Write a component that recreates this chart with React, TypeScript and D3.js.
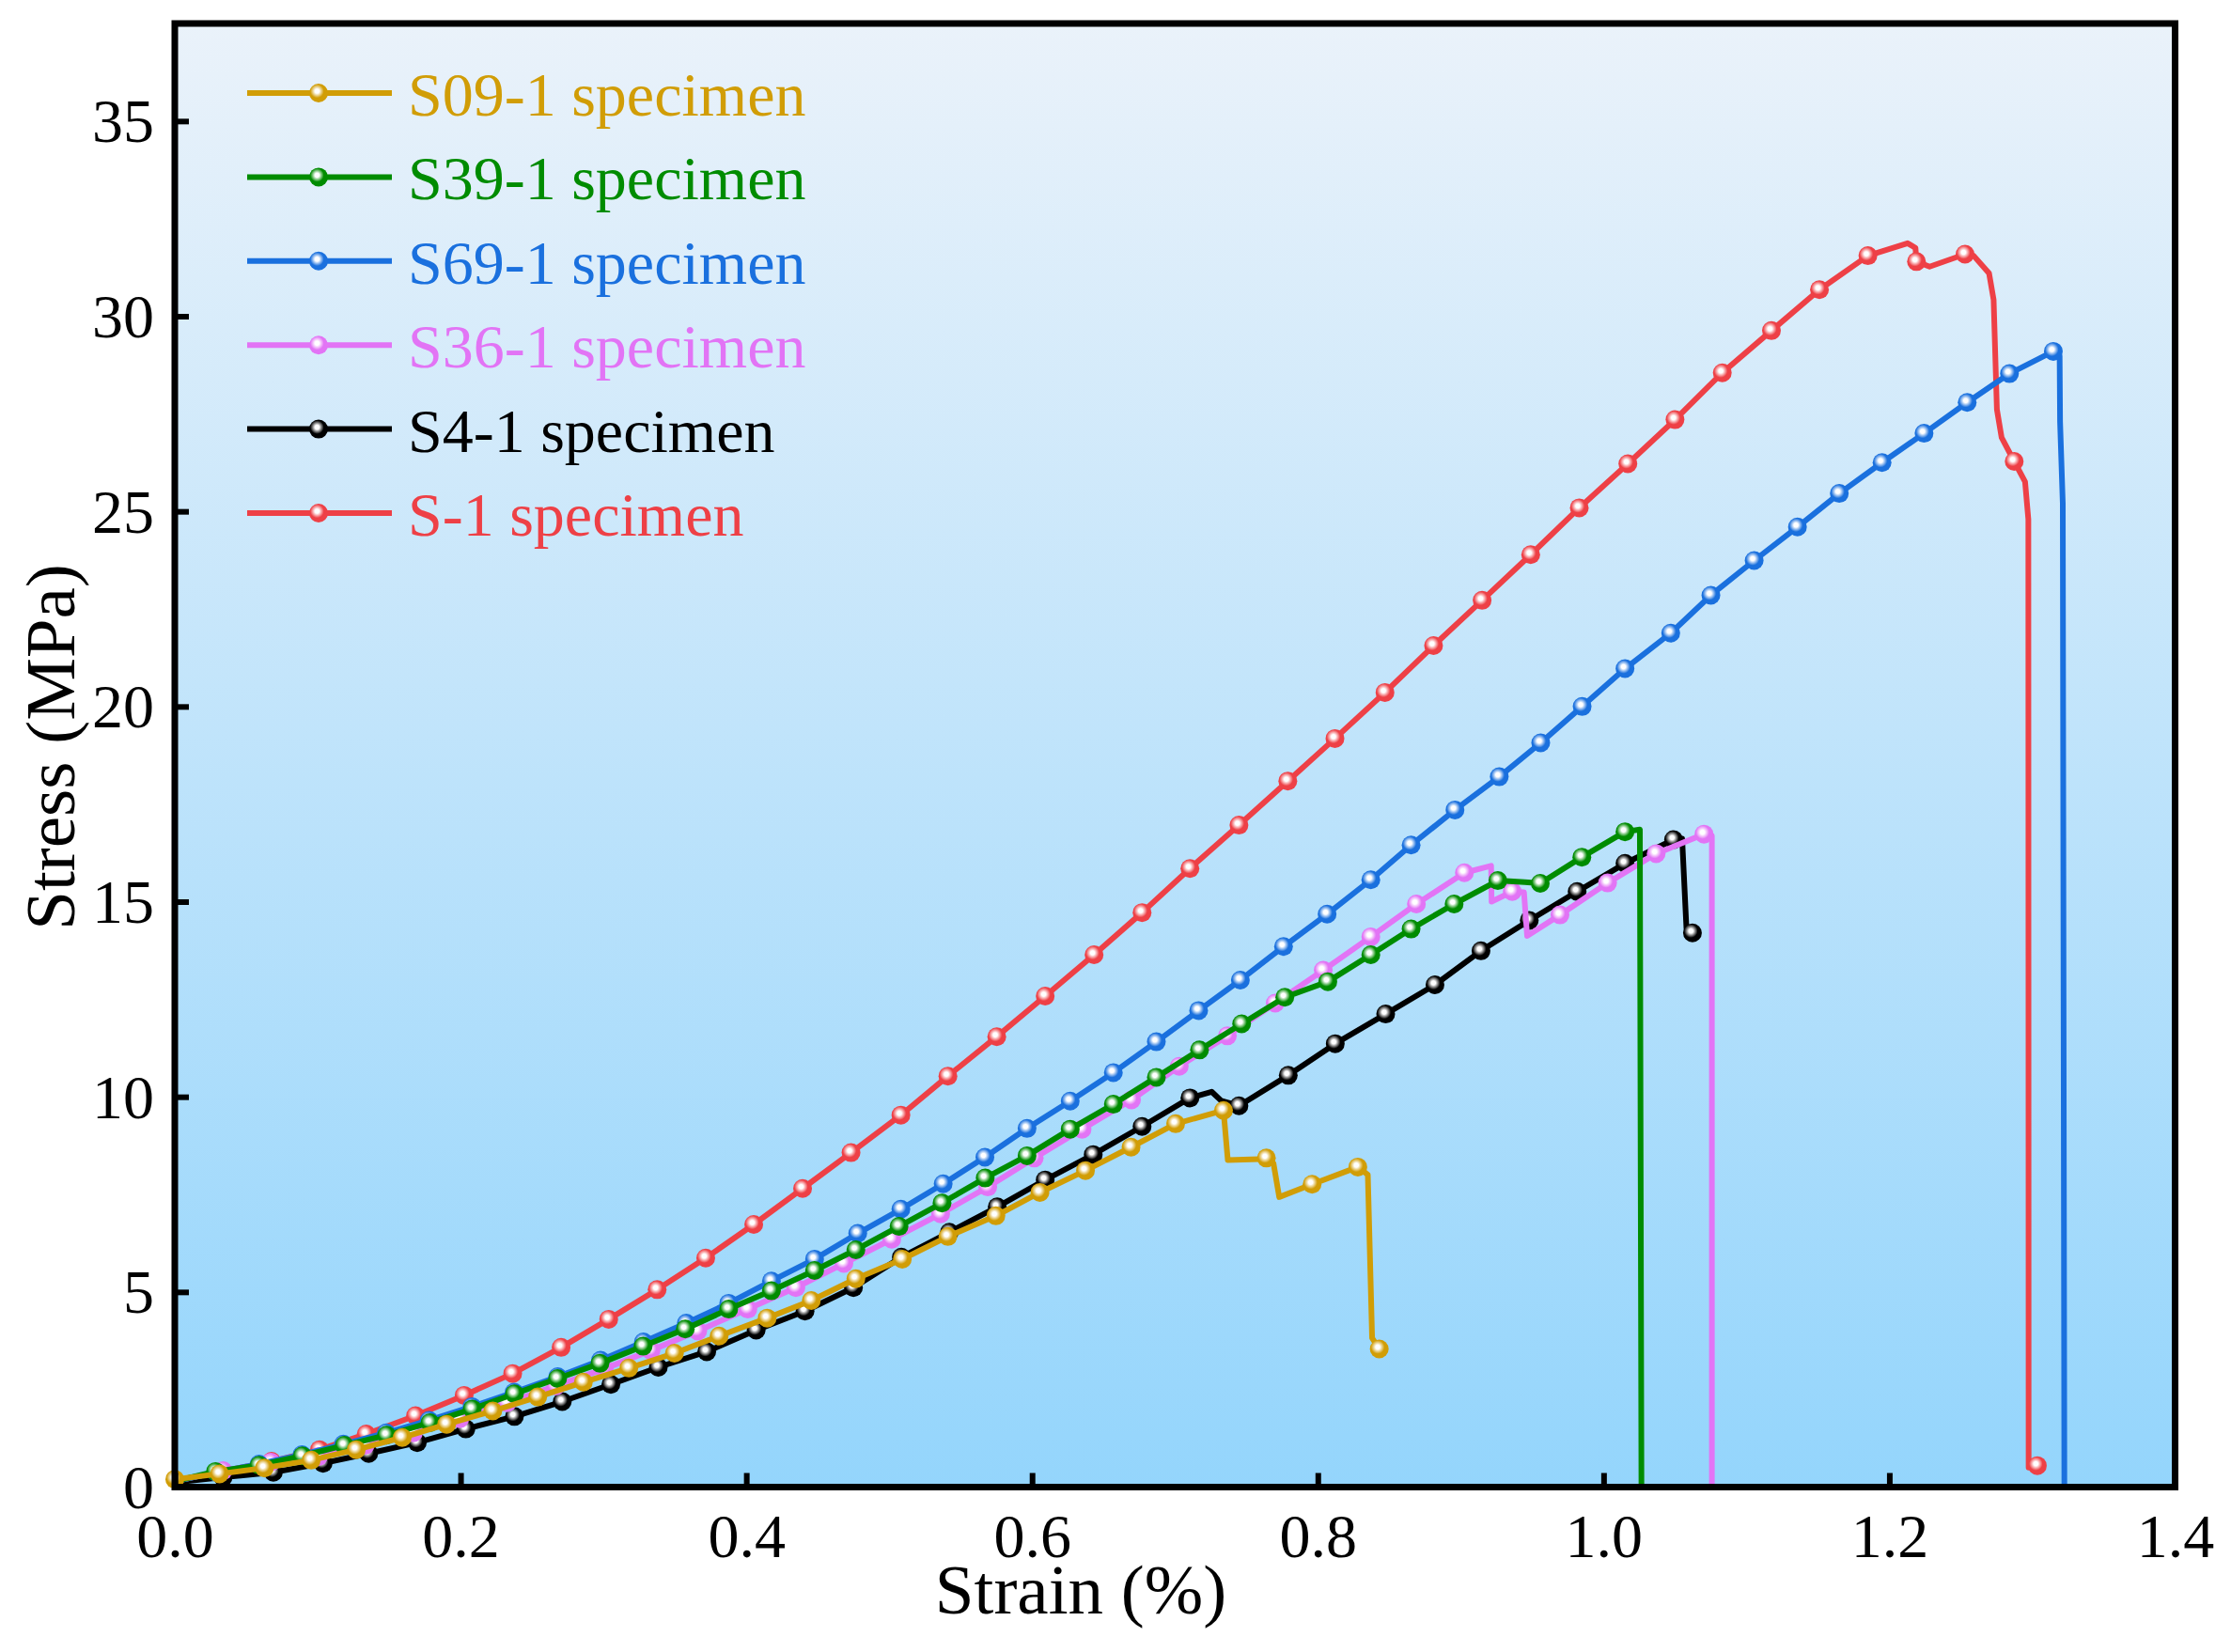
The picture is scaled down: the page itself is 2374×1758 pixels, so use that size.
import React, { useEffect, useRef } from 'react';
import * as d3 from 'd3';

type Pt = [number, number, number]; // strain, stress, 1 = sampled marker

// tick values
const xTicks = [0, 0.2, 0.4, 0.6, 0.8, 1.0, 1.2, 1.4];
const yTicks = [0, 5, 10, 15, 20, 25, 30, 35];

const seriesNames = ['S09-1 specimen', 'S39-1 specimen', 'S69-1 specimen', 'S36-1 specimen', 'S4-1 specimen', 'S-1 specimen'];
const seriesColors = ['#D19D06', '#008C00', '#1A70DE', '#E274F5', '#000000', '#EE4046'];

const s09: Pt[] = [
  [0, 0.2, 1], [0.0313, 0.34, 1], [0.0627, 0.49, 1], [0.0955, 0.69, 1], [0.127, 0.96, 1],
  [0.1592, 1.27, 1], [0.1903, 1.61, 1], [0.2226, 1.95, 1], [0.254, 2.31, 1], [0.286, 2.69, 1],
  [0.3178, 3.05, 1], [0.3497, 3.43, 1], [0.381, 3.87, 1], [0.4146, 4.33, 1], [0.4455, 4.78, 1],
  [0.4767, 5.34, 1], [0.5092, 5.84, 1], [0.5411, 6.42, 1], [0.5747, 6.95, 1], [0.6055, 7.55, 1],
  [0.6374, 8.11, 1], [0.6693, 8.71, 1], [0.7005, 9.31, 1], [0.734, 9.65, 1], [0.737, 8.38, 0],
  [0.759, 8.4, 0], [0.764, 8.43, 1], [0.769, 8.29, 0], [0.773, 7.43, 0], [0.796, 7.76, 1],
  [0.828, 8.2, 1], [0.835, 8.0, 0], [0.838, 3.82, 0], [0.843, 3.54, 1],
];

const s39: Pt[] = [
  [0, 0.15, 0], [0.0285, 0.4, 1], [0.059, 0.56, 1], [0.0893, 0.8, 1], [0.1187, 1.07, 1],
  [0.1483, 1.33, 1], [0.1786, 1.65, 1], [0.2082, 2.0, 1], [0.2377, 2.39, 1], [0.2679, 2.78, 1],
  [0.2976, 3.17, 1], [0.3278, 3.61, 1], [0.3573, 4.05, 1], [0.3877, 4.56, 1], [0.4176, 5.03, 1],
  [0.4478, 5.55, 1], [0.4767, 6.08, 1], [0.5069, 6.68, 1], [0.537, 7.28, 1], [0.5672, 7.92, 1],
  [0.5965, 8.49, 1], [0.6267, 9.17, 1], [0.6569, 9.81, 1], [0.687, 10.5, 1], [0.7172, 11.2, 1],
  [0.7467, 11.87, 1], [0.7769, 12.55, 1], [0.807, 12.95, 1], [0.8371, 13.64, 1], [0.8653, 14.3, 1],
  [0.8954, 14.94, 1], [0.926, 15.54, 1], [0.945, 15.5, 0], [0.9557, 15.47, 1], [0.9848, 16.14, 1],
  [1.015, 16.79, 1], [1.0254, 16.85, 0], [1.0265, 0, 0],
];

const s69: Pt[] = [
  [0, 0.15, 0], [0.029, 0.38, 1], [0.059, 0.59, 1], [0.089, 0.83, 1], [0.118, 1.1, 1],
  [0.148, 1.39, 1], [0.178, 1.71, 1], [0.208, 2.06, 1], [0.2375, 2.43, 1], [0.268, 2.83, 1],
  [0.298, 3.25, 1], [0.328, 3.72, 1], [0.358, 4.2, 1], [0.3877, 4.71, 1], [0.4176, 5.28, 1],
  [0.4478, 5.84, 1], [0.478, 6.5, 1], [0.5082, 7.12, 1], [0.5378, 7.77, 1], [0.567, 8.45, 1],
  [0.5965, 9.19, 1], [0.6267, 9.89, 1], [0.6569, 10.62, 1], [0.687, 11.41, 1], [0.7166, 12.21, 1],
  [0.7458, 12.99, 1], [0.776, 13.85, 1], [0.8065, 14.68, 1], [0.8371, 15.56, 1], [0.8653, 16.45, 1],
  [0.896, 17.35, 1], [0.927, 18.2, 1], [0.956, 19.07, 1], [0.985, 20.0, 1], [1.015, 20.97, 1],
  [1.047, 21.88, 1], [1.0751, 22.85, 1], [1.1054, 23.74, 1], [1.1357, 24.6, 1], [1.165, 25.46, 1],
  [1.1949, 26.25, 1], [1.2243, 27.0, 1], [1.2545, 27.79, 1], [1.2841, 28.53, 1], [1.3148, 29.1, 1],
  [1.3192, 28.98, 0], [1.3195, 27.3, 0], [1.3214, 25.2, 0], [1.3225, 0, 0],
];

const s36: Pt[] = [
  [0, 0.15, 0], [0.0338, 0.42, 1], [0.0673, 0.64, 1], [0.1005, 0.78, 1], [0.1332, 1.07, 1],
  [0.167, 1.39, 1], [0.1994, 1.75, 1], [0.2326, 2.16, 1], [0.2667, 2.59, 1], [0.3006, 3.03, 1],
  [0.3333, 3.5, 1], [0.366, 4.0, 1], [0.4011, 4.56, 1], [0.4347, 5.11, 1], [0.4683, 5.73, 1],
  [0.5018, 6.35, 1], [0.536, 7.0, 1], [0.569, 7.69, 1], [0.6015, 8.43, 1], [0.635, 9.17, 1],
  [0.6696, 9.92, 1], [0.703, 10.78, 1], [0.7367, 11.56, 1], [0.7702, 12.4, 1], [0.8038, 13.24, 1],
  [0.8371, 14.1, 1], [0.869, 14.94, 1], [0.9026, 15.74, 1], [0.9213, 15.92, 0], [0.9216, 15.0, 0],
  [0.9361, 15.26, 1], [0.9443, 15.24, 0], [0.9465, 14.12, 0], [0.9695, 14.66, 1], [1.0028, 15.48, 1],
  [1.0368, 16.23, 1], [1.0703, 16.73, 1], [1.0758, 16.69, 0], [1.0758, 0, 0],
];

const s4: Pt[] = [
  [0, 0.12, 0], [0.0338, 0.25, 1], [0.069, 0.38, 1], [0.1038, 0.61, 1], [0.1357, 0.86, 1],
  [0.1697, 1.14, 1], [0.2037, 1.49, 1], [0.2377, 1.81, 1], [0.2712, 2.19, 1], [0.3052, 2.63, 1],
  [0.3384, 3.07, 1], [0.3723, 3.47, 1], [0.4069, 4.02, 1], [0.4411, 4.51, 1], [0.475, 5.11, 1],
  [0.5085, 5.89, 1], [0.5421, 6.53, 1], [0.5756, 7.18, 1], [0.6092, 7.87, 1], [0.6428, 8.52, 1],
  [0.677, 9.24, 1], [0.7105, 9.97, 1], [0.7257, 10.13, 0], [0.7324, 9.9, 0], [0.7448, 9.77, 1],
  [0.7793, 10.55, 1], [0.8122, 11.36, 1], [0.8475, 12.12, 1], [0.882, 12.87, 1], [0.9142, 13.74, 1],
  [0.948, 14.52, 1], [0.9815, 15.26, 1], [1.015, 15.98, 1], [1.049, 16.59, 1], [1.055, 16.61, 0],
  [1.058, 14.32, 0], [1.0622, 14.2, 1],
];

const s1: Pt[] = [
  [0, 0.15, 0], [0.0337, 0.4, 1], [0.0677, 0.66, 1], [0.1013, 0.96, 1], [0.134, 1.36, 1],
  [0.1685, 1.83, 1], [0.2025, 2.35, 1], [0.2365, 2.91, 1], [0.2704, 3.58, 1], [0.3037, 4.3, 1],
  [0.3376, 5.06, 1], [0.3716, 5.87, 1], [0.4052, 6.73, 1], [0.4394, 7.65, 1], [0.4733, 8.57, 1],
  [0.5082, 9.53, 1], [0.5411, 10.53, 1], [0.5753, 11.54, 1], [0.6092, 12.58, 1], [0.6434, 13.64, 1],
  [0.677, 14.72, 1], [0.7105, 15.85, 1], [0.7448, 16.96, 1], [0.779, 18.09, 1], [0.812, 19.18, 1],
  [0.847, 20.36, 1], [0.881, 21.56, 1], [0.915, 22.72, 1], [0.949, 23.89, 1], [0.983, 25.09, 1],
  [1.017, 26.22, 1], [1.05, 27.35, 1], [1.0831, 28.55, 1], [1.1175, 29.63, 1], [1.1511, 30.68, 1],
  [1.185, 31.55, 1], [1.2128, 31.87, 0], [1.2183, 31.75, 0], [1.219, 31.4, 1], [1.2282, 31.27, 0],
  [1.253, 31.59, 1], [1.259, 31.55, 0], [1.2698, 31.1, 0], [1.273, 30.42, 0], [1.2753, 27.61, 0],
  [1.2786, 26.89, 0], [1.2874, 26.28, 1], [1.295, 25.76, 0], [1.2973, 24.8, 0], [1.2975, 0.5, 0],
  [1.3036, 0.55, 1],
];

const seriesData = [s09, s39, s69, s36, s4, s1];

const App: React.FC = () => {
  const svgRef = useRef<SVGSVGElement | null>(null);

  useEffect(() => {
    if (!svgRef.current) return;
    const W = 2374;
    const H = 1758;
    const margin = { left: 186, right: W - 2314.5, top: 25, bottom: H - 1582.5 };
    const font = '"Liberation Serif", "Times New Roman", serif';
    const markR = 10;
    const lineW = 6;

    const svg = d3.select(svgRef.current);
    svg.selectAll('*').remove();

    const x = d3.scaleLinear().domain([0, 1.4]).range([margin.left, W - margin.right]);
    const y = d3.scaleLinear().domain([0, 37.5]).range([H - margin.bottom, margin.top]);

    const defs = svg.append('defs');
    const bg = defs.append('linearGradient')
      .attr('id', 'bg').attr('x1', 0).attr('y1', 0).attr('x2', 0).attr('y2', 1);
    bg.append('stop').attr('offset', '0%').attr('stop-color', '#EAF2FA');
    bg.append('stop').attr('offset', '100%').attr('stop-color', '#94D5FC');

    // shiny ball markers
    seriesColors.forEach((c, i) => {
      const g = defs.append('radialGradient')
        .attr('id', `mk${i}`).attr('cx', '0.42').attr('cy', '0.4').attr('r', '0.62');
      g.append('stop').attr('offset', '0').attr('stop-color', '#ffffff');
      g.append('stop').attr('offset', '0.18').attr('stop-color', '#ffffff');
      g.append('stop').attr('offset', '0.38').attr('stop-color', d3.interpolateRgb(c, '#ffffff')(0.5));
      g.append('stop').attr('offset', '0.58').attr('stop-color', c);
      g.append('stop').attr('offset', '1').attr('stop-color', c);
    });

    // plot background
    svg.append('rect')
      .attr('x', margin.left).attr('y', margin.top)
      .attr('width', x(1.4) - x(0)).attr('height', y(0) - y(37.5))
      .attr('fill', 'url(#bg)');

    // series: draw S-1 first so S09-1 ends up on top
    const line = d3.line<Pt>().x(d => x(d[0])).y(d => y(d[1]));
    for (let i = seriesData.length - 1; i >= 0; i--) {
      const pts = seriesData[i];
      const c = seriesColors[i];
      const g = svg.append('g');
      g.append('path')
        .attr('d', line(pts)!)
        .attr('fill', 'none')
        .attr('stroke', c)
        .attr('stroke-width', lineW)
        .attr('stroke-linejoin', 'round');
      g.selectAll('circle')
        .data(pts.filter(p => p[2] === 1))
        .join('circle')
        .attr('cx', d => x(d[0]))
        .attr('cy', d => y(d[1]))
        .attr('r', markR)
        .attr('fill', `url(#mk${i})`);
    }

    // axes, ticks pointing inward
    const xAxis = svg.append('g')
      .attr('transform', `translate(0,${y(0)})`)
      .call(d3.axisBottom(x).tickValues(xTicks).tickSize(-15).tickFormat(d3.format('.1f')));
    const yAxis = svg.append('g')
      .attr('transform', `translate(${x(0)},0)`)
      .call(d3.axisLeft(y).tickValues(yTicks).tickSize(-15).tickFormat(d3.format('d')));
    [xAxis, yAxis].forEach(a => {
      a.select('.domain').remove();
      a.selectAll('line').attr('stroke', '#000').attr('stroke-width', 6);
      a.selectAll('text').attr('fill', '#000').attr('font-family', font).attr('font-size', 66);
    });
    xAxis.selectAll('text').attr('y', 74.5).attr('dy', null);
    yAxis.selectAll('text').attr('x', -22).attr('dy', 22);

    // frame
    svg.append('rect')
      .attr('x', x(0)).attr('y', y(37.5))
      .attr('width', x(1.4) - x(0)).attr('height', y(0) - y(37.5))
      .attr('fill', 'none').attr('stroke', '#000').attr('stroke-width', 7);

    // axis titles
    svg.append('text')
      .attr('x', 1150).attr('y', 1717)
      .attr('text-anchor', 'middle')
      .attr('font-family', font).attr('font-size', 75)
      .text('Strain (%)');
    svg.append('text')
      .attr('transform', `translate(79,795) rotate(-90)`)
      .attr('text-anchor', 'middle')
      .attr('font-family', font).attr('font-size', 75)
      .text('Stress (MPa)');

    // legend
    const lg = svg.append('g');
    seriesNames.forEach((name, i) => {
      const cy = 99 + i * 89.4;
      const row = lg.append('g').attr('transform', `translate(0,${cy})`);
      row.append('line')
        .attr('x1', 263).attr('x2', 417).attr('y1', 0).attr('y2', 0)
        .attr('stroke', seriesColors[i]).attr('stroke-width', lineW);
      row.append('circle')
        .attr('cx', 339).attr('cy', 0).attr('r', markR)
        .attr('fill', `url(#mk${i})`);
      row.append('text')
        .attr('x', 434).attr('y', 24)
        .attr('font-family', font).attr('font-size', 66)
        .attr('fill', seriesColors[i])
        .text(name);
    });
  }, []);

  return (
    <div>
      <style>{`body{margin:0;background:#fff}`}</style>
      <svg ref={svgRef} width={2374} height={1758} style={{ display: 'block' }} />
    </div>
  );
};

export default App;
